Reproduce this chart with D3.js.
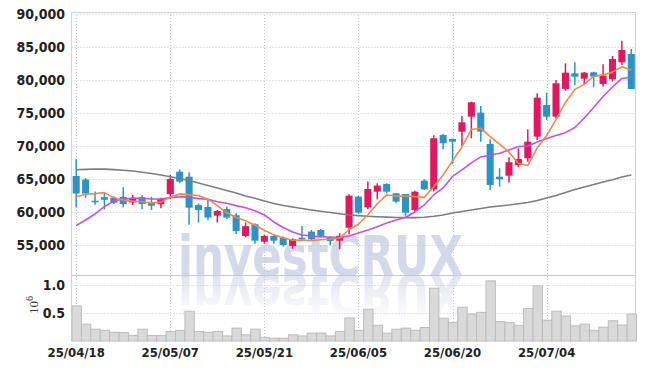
<!DOCTYPE html>
<html>
<head>
<meta charset="utf-8">
<script src="https://cdn.jsdelivr.net/npm/d3@7"></script>
<style>
body { margin: 0; background: #fff; }
#chart { width: 645px; height: 369px; }
</style>
</head>
<body>
<div id="chart"></div>
<script>
const container = "#chart";

// data
// ---------------------------
const dates = [
	"25/04/18","25/04/21","25/04/22","25/04/23","25/04/24","25/04/25","25/04/28","25/04/29","25/04/30","25/05/02",
	"25/05/07","25/05/08","25/05/09","25/05/12","25/05/13","25/05/14","25/05/15","25/05/16","25/05/19","25/05/20",
	"25/05/21","25/05/22","25/05/23","25/05/26","25/05/27","25/05/28","25/05/29","25/05/30","25/06/02","25/06/04",
	"25/06/05","25/06/09","25/06/10","25/06/11","25/06/12","25/06/13","25/06/16","25/06/17","25/06/18","25/06/19",
	"25/06/20","25/06/23","25/06/24","25/06/25","25/06/26","25/06/27","25/06/30","25/07/01","25/07/02","25/07/03",
	"25/07/04","25/07/07","25/07/08","25/07/09","25/07/10","25/07/11","25/07/14","25/07/15","25/07/16","25/07/17"
];

const open = [
	65450,64900,61700,62250,62150,62300,61450,62250,61450,61170,
	62700,66100,65350,61050,60750,59440,60450,59500,56370,58130,
	55500,56370,56100,54850,56100,57020,57270,56170,55650,57620,
	62320,60710,63080,64240,62830,62730,60300,64750,63430,71670,
	71060,72170,74440,75050,70300,65350,65500,67120,68140,71420,
	76210,74440,78640,81010,80200,81160,79400,80100,82680,83940
];
const high = [
	67990,65150,63100,62850,62400,63750,62600,62550,62300,62170,
	65600,66450,66000,61300,61900,60300,60800,59800,58400,58280,
	56520,56620,56270,56000,57880,57270,57420,56370,56780,62680,
	62430,64600,64350,64350,62830,62730,63230,64950,71620,71820,
	71100,74550,76710,76060,71020,66620,68290,69650,72530,77990,
	78080,80000,82530,82680,81200,81260,82380,83640,85960,84700
];
const low = [
	60700,62150,61100,60400,61200,60700,61050,60400,60300,60560,
	61950,64350,58050,58400,58750,58400,58950,56670,56170,55200,
	55200,55200,54750,54440,55770,55650,56170,54960,54350,56620,
	59700,60400,61930,62830,61330,59400,60050,63330,63100,69500,
	67300,70000,71170,70650,63330,63840,64450,66770,67620,70910,
	73940,74200,78380,79240,79240,78890,79000,79750,82270,78640
];
const close = [
	62800,62800,61600,61850,61400,61200,62150,61200,60950,61970,
	65000,64600,60650,60300,59150,60150,59150,57120,57850,55650,
	56370,55650,55000,55860,55860,55860,56370,55610,56370,62470,
	59900,63480,63990,63080,61570,59900,63080,63430,71170,70410,
	70660,73590,76620,72170,64090,64950,67530,68030,70650,77320,
	74440,79500,81110,80500,81110,80500,80650,83180,84550,78640
];
const volume = [
	625000,300000,210000,190000,155000,150000,100000,210000,100000,100000,
	170000,190000,530000,170000,155000,170000,90000,230000,110000,210000,
	65000,50000,50000,110000,90000,140000,140000,90000,170000,410000,
	190000,565000,280000,140000,210000,230000,190000,240000,940000,405000,
	330000,600000,480000,510000,1070000,345000,330000,280000,580000,980000,
	370000,530000,445000,270000,300000,190000,245000,360000,285000,480000
];

// moving averages (5, 20, 60)
const ma5 = [
	62320,62680,62780,62930,62150,61800,61640,61560,61380,61490,
	62250,62740,62630,62500,61940,60970,59880,59170,58680,57980,
	57230,56530,56100,55710,55750,55650,55790,55910,56010,57340,
	58140,59570,61240,62580,62400,62400,62320,62210,63830,65600,
	67750,69850,72490,72690,71430,70280,69070,67350,67050,69700,
	71590,73990,76600,78570,79330,80540,80770,81190,82000,81500
];
const ma20 = [
	57960,58790,59700,60810,61670,61970,62080,62080,61970,61970,
	62170,62320,62230,62020,61920,61560,61320,60960,60650,60200,
	59550,58490,57650,56970,56520,56370,56260,56170,56170,56370,
	56820,57270,57770,58340,58790,59170,60000,61060,62580,63640,
	65380,66370,67430,68340,68640,68900,69400,69930,70000,70610,
	71140,71600,72020,72800,74240,75830,77500,78940,80230,80410
];
const ma60 = [
	66400,66460,66500,66490,66410,66320,66200,66030,65820,65610,
	65350,65080,64780,64400,64020,63640,63260,62880,62430,62080,
	61670,61290,60990,60760,60530,60310,60110,59930,59730,59550,
	59440,59350,59280,59220,59170,59140,59140,59200,59350,59550,
	59850,60080,60310,60530,60760,60910,61060,61250,61440,61740,
	62120,62500,62960,63410,63790,64170,64550,64880,65310,65610
];

const priceTicks = [55000, 60000, 65000, 70000, 75000, 80000, 85000, 90000];
const volTicks = [0.5, 1.0];
const dateTicks = ["25/04/18", "25/05/07", "25/05/21", "25/06/05", "25/06/20", "25/07/04"];

const c_up = "#e2175f",
	c_down = "#2b93c6",
	c_ma5 = "#f0884a",
	c_ma20 = "#c64fe8",
	c_ma60 = "#7d7d7d",
	c_grid = "#c3c7d6",
	c_border = "#d4d4d4";

const width = 645, height = 369;
const left = 71.5, right = 636;
const top_price = 12, bottom_price = 275, bottom_vol = 341;

let data = dates.map((d, i) => ({
	date: d, open: open[i], high: high[i], low: low[i], close: close[i],
	volume: volume[i] / 1e6
}));

let svg = d3.select(container)
	.append("svg")
	.attr("width", width)
	.attr("height", height)
	.style("font-family", "'DejaVu Sans Condensed', 'DejaVu Sans', sans-serif");

// scale
// ---------------------------
let x = d3.scaleBand()
	.domain(dates)
	.range([left, right])
	.padding(0);

let y = d3.scaleLinear()
	.domain([50450, 90300])
	.range([bottom_price, top_price]);

let y_vol = d3.scaleLinear()
	.domain([0, 1.175])
	.range([bottom_vol, bottom_price]);

let bw = x.bandwidth();
let cx = d => x(d) + bw / 2;

// watermark
// ---------------------------
let defs = svg.append("defs");

// mask that fades the reflection out going down
let grad = defs.append("linearGradient")
	.attr("id", "fade")
	.attr("gradientUnits", "userSpaceOnUse")
	.attr("x1", 0).attr("x2", 0)
	.attr("y1", bottom_price).attr("y2", bottom_price + 46);
grad.append("stop").attr("offset", "0%").attr("stop-color", "#fff").attr("stop-opacity", 0.9);
grad.append("stop").attr("offset", "55%").attr("stop-color", "#fff").attr("stop-opacity", 0.4);
grad.append("stop").attr("offset", "100%").attr("stop-color", "#fff").attr("stop-opacity", 0);

defs.append("mask")
	.attr("id", "fade_mask")
	.attr("maskUnits", "userSpaceOnUse")
	.attr("x", 0).attr("y", bottom_price)
	.attr("width", width).attr("height", 60)
	.append("rect")
	.attr("x", 0).attr("y", bottom_price)
	.attr("width", width).attr("height", 60)
	.attr("fill", "url(#fade)");

defs.append("text")
	.attr("id", "wm")
	.attr("x", 178)
	.attr("y", bottom_price)
	.attr("textLength", 285)
	.attr("lengthAdjust", "spacingAndGlyphs")
	.style("font-family", "'DejaVu Sans', sans-serif")
	.style("font-size", "56px")
	.style("font-weight", "bold")
	.text("investCRUX");

let mark = svg.append("g").attr("id", "watermark");
mark.append("use")
	.attr("href", "#wm")
	.attr("fill", "#d3d8ea");
// reflection
mark.append("g")
	.attr("mask", "url(#fade_mask)")
	.append("use")
	.attr("href", "#wm")
	.attr("transform", "translate(0," + (bottom_price * 2) + ") scale(1,-1)")
	.attr("fill", "#dde1ee");

// grid
// ---------------------------
let grid = svg.append("g").attr("id", "grid");

grid.selectAll(".hgrid")
	.data(priceTicks)
	.enter()
	.append("line")
	.attr("x1", left).attr("x2", right)
	.attr("y1", d => Math.round(y(d)) + 0.5)
	.attr("y2", d => Math.round(y(d)) + 0.5)
	.attr("stroke", c_grid)
	.attr("stroke-dasharray", "1,2");

grid.selectAll(".vgrid_v")
	.data(volTicks)
	.enter()
	.append("line")
	.attr("x1", left).attr("x2", right)
	.attr("y1", d => Math.round(y_vol(d)) + 0.5)
	.attr("y2", d => Math.round(y_vol(d)) + 0.5)
	.attr("stroke", c_grid)
	.attr("stroke-dasharray", "1,2");

grid.selectAll(".vgrid")
	.data(dateTicks)
	.enter()
	.append("line")
	.attr("x1", d => Math.round(cx(d)) + 0.5)
	.attr("x2", d => Math.round(cx(d)) + 0.5)
	.attr("y1", top_price).attr("y2", bottom_vol)
	.attr("stroke", c_grid)
	.attr("stroke-dasharray", "1,2");

// borders
svg.append("path")
	.attr("d", "M" + (left) + "," + bottom_vol + "V" + (top_price + 0.5) + "H" + (right - 0.5) + "V" + bottom_vol)
	.attr("fill", "none")
	.attr("stroke", c_border);
svg.append("line")
	.attr("x1", left).attr("x2", right)
	.attr("y1", bottom_price + 0.5).attr("y2", bottom_price + 0.5)
	.attr("stroke", "#c9c9c9");

// volume
// ---------------------------
svg.append("g")
	.attr("id", "volume")
	.selectAll("rect")
	.data(data)
	.enter()
	.append("rect")
	.attr("x", d => x(d.date) + 0.5)
	.attr("width", bw)
	.attr("y", d => y_vol(d.volume))
	.attr("height", d => bottom_vol - y_vol(d.volume))
	.attr("fill", "#d9d9d9")
	.attr("stroke", "#bcbcbc")
	.attr("stroke-width", 1);

// candles
// ---------------------------
let candle = svg.append("g")
	.attr("id", "candles")
	.selectAll("g")
	.data(data)
	.enter()
	.append("g");

candle.append("line")
	.attr("x1", d => cx(d.date))
	.attr("x2", d => cx(d.date))
	.attr("y1", d => y(d.high))
	.attr("y2", d => y(d.low))
	.attr("stroke", d => d.close >= d.open ? c_up : c_down)
	.attr("stroke-width", 1.5);

candle.append("rect")
	.attr("x", d => cx(d.date) - bw * 0.375)
	.attr("width", bw * 0.75)
	.attr("y", d => y(Math.max(d.open, d.close)))
	.attr("height", d => Math.max(1.5, Math.abs(y(d.open) - y(d.close))))
	.attr("fill", d => d.close >= d.open ? c_up : c_down);

// moving averages
// ---------------------------
let line = d3.line()
	.x((d, i) => cx(dates[i]))
	.y(d => y(d));

[[ma60, c_ma60], [ma20, c_ma20], [ma5, c_ma5]].forEach(function(s) {
	svg.append("path")
		.datum(s[0])
		.attr("d", line)
		.attr("fill", "none")
		.attr("stroke", s[1])
		.attr("stroke-width", 1.6)
		.attr("stroke-linejoin", "round");
});

// axis
// ---------------------------
let axis = svg.append("g")
	.attr("id", "axis")
	.style("font-size", "14px")
	.attr("fill", "#222");

axis.selectAll(".ptick")
	.data(priceTicks)
	.enter()
	.append("text")
	.attr("x", 65)
	.attr("y", d => y(d))
	.attr("dy", "0.36em")
	.attr("text-anchor", "end")
	.style("font-weight", "bold")
	.text(d => d3.format(",")(d));

axis.selectAll(".vtick")
	.data(volTicks)
	.enter()
	.append("text")
	.attr("x", 65)
	.attr("y", d => y_vol(d))
	.attr("dy", "0.36em")
	.attr("text-anchor", "end")
	.style("font-weight", "bold")
	.text(d => d3.format(".1f")(d));

axis.selectAll(".xtick")
	.data(dateTicks)
	.enter()
	.append("text")
	.attr("x", d => cx(d))
	.attr("y", 357)
	.attr("text-anchor", "middle")
	.style("font-size", "13px")
	.style("font-weight", "bold")
	.text(d => d);

let unit = axis.append("text")
	.attr("transform", "translate(38,314) rotate(-90)")
	.style("font-family", "'Liberation Serif', serif")
	.style("font-size", "13px")
	.attr("fill", "#333");
unit.append("tspan").text("10");
unit.append("tspan")
	.attr("dy", -5)
	.style("font-size", "10px")
	.text("6");
</script>
</body>
</html>
